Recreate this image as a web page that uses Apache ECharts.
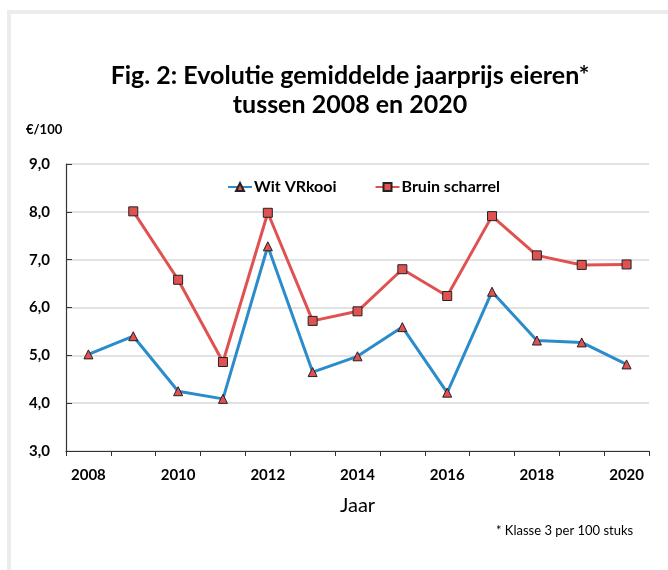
<!DOCTYPE html>
<html>
<head>
<meta charset="utf-8">
<script src="https://cdn.jsdelivr.net/npm/echarts@6/dist/echarts.min.js"></script>
<style>html,body{margin:0;padding:0;background:#fff}#c{width:668px;height:570px}</style>
</head>
<body>
<div id="c"></div>
<script>
const years = ['2008','2009','2010','2011','2012','2013','2014','2015','2016','2017','2018','2019','2020'];
const witVRkooi = [5.02, 5.40, 4.25, 4.09, 7.28, 4.65, 4.98, 5.59, 4.22, 6.33, 5.31, 5.27, 4.81];
const bruinScharrel = [null, 8.01, 6.58, 4.86, 7.98, 5.72, 5.92, 6.80, 6.24, 7.91, 7.09, 6.89, 6.90];
const yTicks = [3, 4, 5, 6, 7, 8, 9];

const FONT = 'Lato, "Open Sans", sans-serif';
const chart = echarts.init(document.getElementById('c'), null, {renderer: 'canvas'});
chart.setOption({
  backgroundColor: '#fff',
  animation: false,
  title: {
    text: 'Fig. 2: Evolutie gemiddelde jaarprijs eieren*\ntussen 2008 en 2020',
    left: 345, top: 56, textAlign: 'center',
    textStyle: {fontFamily: FONT, fontWeight: 'bold', fontSize: 25, lineHeight: 29, color: '#000'}
  },
  legend: {
    top: 174, left: 222,
    itemWidth: 24, itemHeight: 10, itemGap: 38,
    textStyle: {fontFamily: FONT, fontWeight: 'bold', fontSize: 16, color: '#000', padding: [0,0,0,-3]},
    data: ['Wit VRkooi', 'Bruin scharrel']
  },
  grid: {left: 66, right: 19, top: 164, bottom: 119, containLabel: false},
  xAxis: {
    type: 'category', data: years, boundaryGap: true,
    axisLine: {lineStyle: {color: '#333', width: 1.2}},
    axisTick: {show: true, alignWithLabel: false, interval: 0, length: 5, lineStyle: {color: '#333'}},
    axisLabel: {interval: 1, margin: 17, fontFamily: FONT, fontWeight: 'bold', fontSize: 15, color: '#000'},
    name: 'Jaar', nameLocation: 'middle', nameGap: 45,
    nameTextStyle: {fontFamily: FONT, fontSize: 20, color: '#000'}
  },
  yAxis: {
    type: 'value', min: 3, max: 9, interval: 1,
    axisLine: {show: true, lineStyle: {color: '#333', width: 1.2}},
    axisTick: {show: true, inside: true, length: 6, lineStyle: {color: '#333'}},
    splitLine: {lineStyle: {color: '#d9d9d9', width: 1.5}},
    axisLabel: {margin: 16, fontFamily: FONT, fontWeight: 'bold', fontSize: 15, color: '#000',
      formatter: v => v.toFixed(1).replace('.', ',')},
    name: '€/100', nameLocation: 'end', nameGap: 28,
    nameTextStyle: {fontFamily: FONT, fontWeight: 'bold', fontSize: 13, color: '#000', align: 'left', padding: [0,0,0,-40]}
  },
  series: [
    {
      name: 'Wit VRkooi', type: 'line', data: witVRkooi,
      lineStyle: {color: '#2b8ccb', width: 3},
      itemStyle: {color: '#e05252', borderColor: '#222', borderWidth: 1},
      symbol: 'triangle', symbolSize: 9, z: 3
    },
    {
      name: 'Bruin scharrel', type: 'line', data: bruinScharrel, connectNulls: false,
      lineStyle: {color: '#e05252', width: 3},
      itemStyle: {color: '#e05252', borderColor: '#222', borderWidth: 1},
      symbol: 'rect', symbolSize: 9, z: 2
    }
  ],
  graphic: [
    {type: 'rect', shape: {x: 7, y: 10, width: 661, height: 4}, style: {fill: '#ececec'}, silent: true},
    {type: 'rect', shape: {x: 7, y: 10, width: 4, height: 560}, style: {fill: '#ececec'}, silent: true},
    {type: 'text', left: 496, top: 524, style: {text: '* Klasse 3 per 100 stuks', fontFamily: FONT, fontSize: 13, fill: '#000'}}
  ]
});
</script>
</body>
</html>
